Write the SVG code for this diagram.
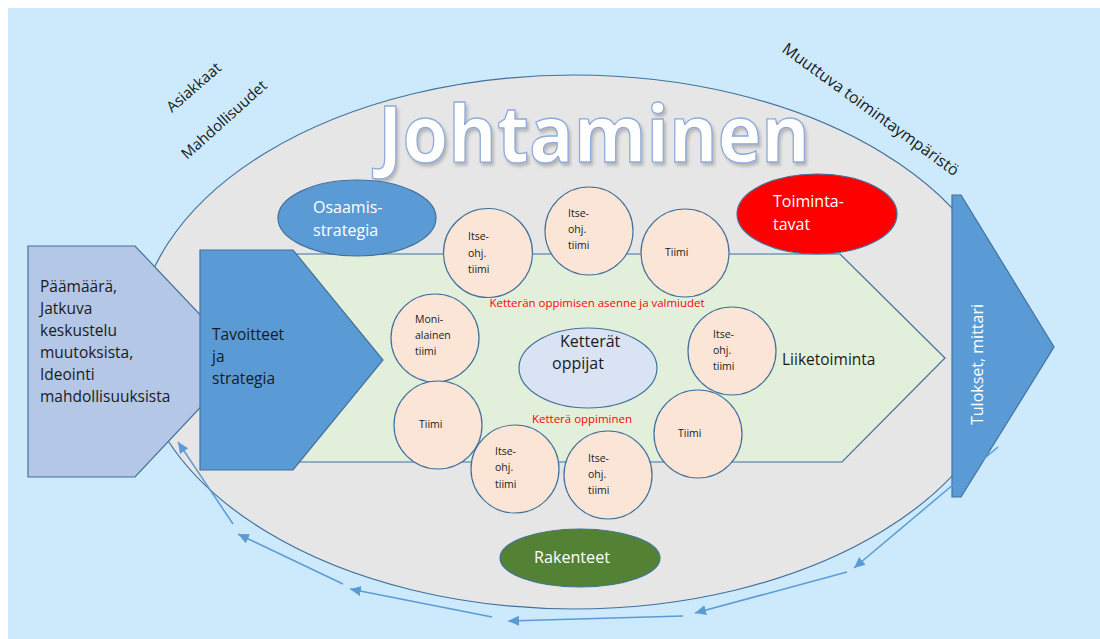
<svg xmlns="http://www.w3.org/2000/svg" width="1100" height="639" viewBox="0 0 1100 639">
  <defs>
    <marker id="tip" markerUnits="userSpaceOnUse" markerWidth="14" markerHeight="12" refX="11" refY="5" orient="auto">
      <path d="M0,0 L11,5 L0,10 Z" fill="#5b9bd5"/>
    </marker>
    <filter id="lift" x="-10%" y="-20%" width="120%" height="150%">
      <feDropShadow dx="2" dy="3" stdDeviation="1.6" flood-color="#7f7f7f" flood-opacity="0.45"/>
    </filter>
  </defs>
  <style>
    .txt { font-family: "Open Sans", "Liberation Sans", sans-serif; }
    .dark { fill: #1a1a1a; }
    .white { fill: #ffffff; }
    .edge { stroke: #41719c; stroke-width: 1.2; }
    .team { fill: #fbe5d6; stroke: #41719c; stroke-width: 1.2; }
    .team-label { font-family: "Open Sans", "Liberation Sans", sans-serif; font-size: 10.5px; fill: #1a1a1a; }
    .red-label { font-family: "Open Sans", "Liberation Sans", sans-serif; font-size: 10px; fill: #ff0000; }
    .loop { stroke: #5b9bd5; stroke-width: 1.5; fill: none; marker-end: url(#tip); }
  </style>

  <!-- backdrop -->
  <rect x="0" y="0" width="1100" height="639" fill="#ffffff"/>
  <rect x="8" y="8" width="1092" height="631" fill="#cdeafd"/>

  <!-- surroundings -->
  <g id="outer-labels" class="txt dark" font-size="15">
    <text x="172" y="113" transform="rotate(-41 172 113)">Asiakkaat</text>
    <text x="187" y="160" transform="rotate(-42 187 160)">Mahdollisuudet</text>
    <text x="781" y="51" transform="rotate(36 781 51)" font-size="16">Muuttuva toimintaympäristö</text>
  </g>

  <!-- management area -->
  <g id="johtaminen">
    <ellipse cx="574" cy="342" rx="437" ry="267" fill="#e6e6e6" stroke="#41719c" stroke-width="1.2"/>
    <text x="378" y="162" class="txt" font-size="78" font-weight="bold" fill="#ffffff" stroke="#8eaadb" stroke-width="1.3" filter="url(#lift)" textLength="432" lengthAdjust="spacingAndGlyphs">Johtaminen</text>
  </g>

  <!-- business arrow -->
  <g id="liiketoiminta">
    <polygon points="250,254 840,254 945,358 842,462 250,462" fill="#e2efda" class="edge"/>
    <text x="782" y="365" class="txt dark" font-size="15.5">Liiketoiminta</text>
  </g>

  <!-- goals -->
  <g id="paamaara">
    <polygon points="28,246 135,246 244,361 135,477 28,477" fill="#b4c7e7" class="edge"/>
    <text class="txt dark" font-size="15.5">
      <tspan x="40" y="292">Päämäärä,</tspan>
      <tspan x="40" y="314">Jatkuva</tspan>
      <tspan x="40" y="336">keskustelu</tspan>
      <tspan x="40" y="358">muutoksista,</tspan>
      <tspan x="40" y="380">Ideointi</tspan>
      <tspan x="40" y="402">mahdollisuuksista</tspan>
    </text>
  </g>

  <g id="tavoitteet">
    <polygon points="200,250 293,250 383,360 293,470 200,470" fill="#5b9bd5" class="edge"/>
    <text class="txt dark" font-size="15.5">
      <tspan x="212" y="340">Tavoitteet</tspan>
      <tspan x="212" y="362">ja</tspan>
      <tspan x="212" y="384">strategia</tspan>
    </text>
  </g>

  <!-- results -->
  <g id="tulokset">
    <polygon points="952,195 961,195 1054,347 961,497 952,497" fill="#5b9bd5" class="edge"/>
    <text x="983" y="425" transform="rotate(-90 983 425)" class="txt white" font-size="16">Tulokset, mittari</text>
  </g>

  <!-- ovals -->
  <g id="osaamisstrategia">
    <ellipse cx="357" cy="218" rx="79" ry="38" fill="#5b9bd5" class="edge"/>
    <text class="txt white" font-size="16">
      <tspan x="313" y="213">Osaamis-</tspan>
      <tspan x="313" y="236">strategia</tspan>
    </text>
  </g>

  <g id="toimintatavat">
    <ellipse cx="817" cy="214" rx="80" ry="40" fill="#ff0000" class="edge"/>
    <text class="txt white" font-size="16">
      <tspan x="773" y="207">Toiminta-</tspan>
      <tspan x="773" y="230">tavat</tspan>
    </text>
  </g>

  <g id="rakenteet">
    <ellipse cx="580" cy="558" rx="80" ry="29" fill="#548235" class="edge"/>
    <text x="572" y="563" text-anchor="middle" class="txt white" font-size="16" textLength="76" lengthAdjust="spacingAndGlyphs">Rakenteet</text>
  </g>

  <g id="ketterat-oppijat">
    <ellipse cx="588" cy="368" rx="69" ry="40" fill="#dae3f3" class="edge"/>
    <text class="txt dark" font-size="16">
      <tspan x="560" y="347">Ketterät</tspan>
      <tspan x="552" y="369">oppijat</tspan>
    </text>
  </g>

  <!-- captions -->
  <g id="captions">
    <text x="597" y="307" text-anchor="middle" class="red-label" textLength="215" lengthAdjust="spacingAndGlyphs">Ketterän oppimisen asenne ja valmiudet</text>
    <text x="582" y="423" text-anchor="middle" class="red-label" textLength="100" lengthAdjust="spacingAndGlyphs">Ketterä oppiminen</text>
  </g>

  <!-- teams -->
  <g id="team-1">
    <circle cx="488" cy="253" r="44.5" class="team"/>
    <text class="team-label"><tspan x="468" y="240">Itse-</tspan><tspan x="468" y="257">ohj.</tspan><tspan x="468" y="273">tiimi</tspan></text>
  </g>
  <g id="team-2">
    <circle cx="589" cy="231" r="44" class="team"/>
    <text class="team-label"><tspan x="568" y="217">Itse-</tspan><tspan x="568" y="233">ohj.</tspan><tspan x="568" y="249">tiimi</tspan></text>
  </g>
  <g id="team-3">
    <circle cx="685" cy="253" r="44" class="team"/>
    <text class="team-label" x="665" y="256">Tiimi</text>
  </g>
  <g id="team-4">
    <circle cx="435" cy="338" r="44" class="team"/>
    <text class="team-label"><tspan x="415" y="323">Moni-</tspan><tspan x="415" y="339">alainen</tspan><tspan x="415" y="355">tiimi</tspan></text>
  </g>
  <g id="team-5">
    <circle cx="732" cy="351" r="44" class="team"/>
    <text class="team-label"><tspan x="713" y="338">Itse-</tspan><tspan x="713" y="354">ohj.</tspan><tspan x="713" y="370">tiimi</tspan></text>
  </g>
  <g id="team-6">
    <circle cx="438" cy="425" r="44" class="team"/>
    <text class="team-label" x="419" y="428">Tiimi</text>
  </g>
  <g id="team-7">
    <circle cx="515" cy="469" r="44" class="team"/>
    <text class="team-label"><tspan x="495" y="455">Itse-</tspan><tspan x="495" y="471">ohj.</tspan><tspan x="495" y="488">tiimi</tspan></text>
  </g>
  <g id="team-8">
    <circle cx="608" cy="475" r="44" class="team"/>
    <text class="team-label"><tspan x="588" y="462">Itse-</tspan><tspan x="588" y="478">ohj.</tspan><tspan x="588" y="494">tiimi</tspan></text>
  </g>
  <g id="team-9">
    <circle cx="698" cy="434" r="44" class="team"/>
    <text class="team-label" x="678" y="437">Tiimi</text>
  </g>

  <!-- feedback loop -->
  <g id="connectors">
    <line x1="998" y1="447" x2="854" y2="568" class="loop"/>
    <line x1="847" y1="572" x2="695" y2="613" class="loop"/>
    <line x1="683" y1="616" x2="508" y2="621" class="loop"/>
    <line x1="492" y1="617" x2="350" y2="589" class="loop"/>
    <line x1="343" y1="584" x2="238" y2="534" class="loop"/>
    <line x1="233" y1="524" x2="178" y2="442" class="loop"/>
  </g>
</svg>
